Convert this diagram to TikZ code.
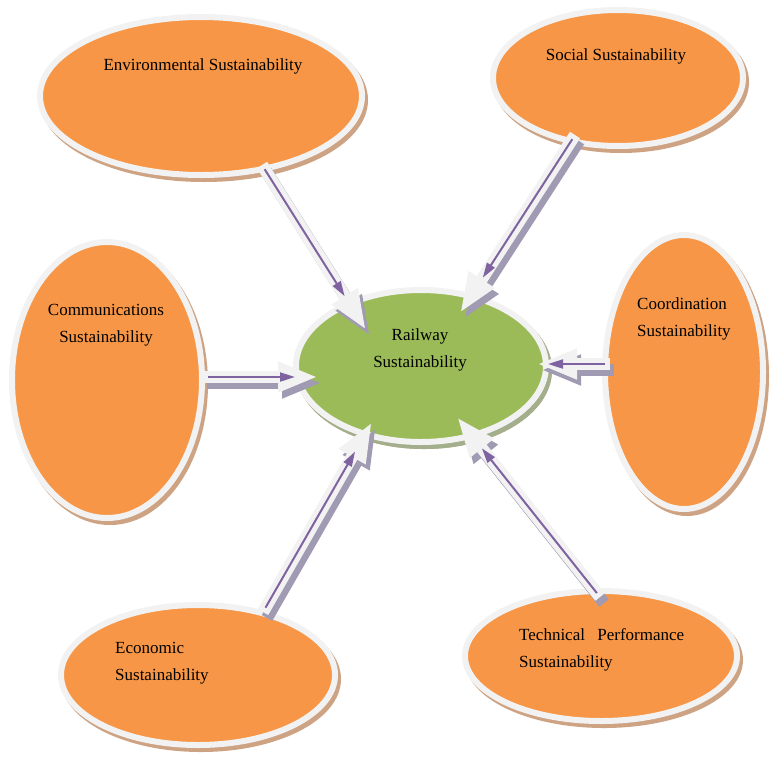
\documentclass[tikz,border=0pt]{standalone}
\usepackage{fontspec}
\setmainfont{Liberation Serif}
\usepackage{tikz}
\usetikzlibrary{shapes.geometric}
\usetikzlibrary{arrows.meta}
\usetikzlibrary{shadows}
\definecolor{bubOrange}{HTML}{F79646}
\definecolor{bubGreen}{HTML}{9BBB59}
\definecolor{bubRim}{HTML}{F2F2F2}
\definecolor{tanShade}{HTML}{CDA383}
\definecolor{greenShade}{HTML}{A3AE8C}
\definecolor{arrowShade}{HTML}{A09AB3}
\definecolor{flowPurple}{HTML}{7F63A1}
\tikzset{bubble/.style={ellipse, draw=bubRim, line width=6pt, inner sep=0pt, fill=bubOrange,
    general shadow={fill=tanShade, draw=tanShade, line width=6pt, shadow xshift=3pt, shadow yshift=-4pt}}}
\tikzset{txt/.style={inner sep=0pt, font=\fontsize{17}{27}\selectfont}}
\tikzset{block/.style={draw=bubRim, line width=12pt, -{Triangle[width=28pt,length=40pt]}}}
\tikzset{blockshade/.style={block, draw=arrowShade, transform canvas={shift={(4pt,-6pt)}}}}
\tikzset{flow/.style={draw=flowPurple, line width=2pt, -{Triangle[width=9pt,length=15pt]}, shorten <=5pt}}

\begin{document}
\begin{tikzpicture}[x=1pt, y=-1pt]
\useasboundingbox (0,0) rectangle (778,766);

% bubbles
\node[bubble, minimum width=322pt, minimum height=158pt] (env) at (201,96) {};
\node[bubble, minimum width=250pt, minimum height=136pt] (soc) at (618,78) {};
\node[bubble, minimum width=190pt, minimum height=276pt] (comm) at (107,380) {};
\node[bubble, minimum width=158pt, minimum height=274pt] (coord) at (684,372) {};
\node[bubble, minimum width=274pt, minimum height=140pt] (econ) at (198,675) {};
\node[bubble, minimum width=272pt, minimum height=130pt] (tech) at (601,656) {};
\node[bubble, fill=bubGreen, general shadow={fill=greenShade, draw=greenShade, line width=6pt, shadow xshift=3pt, shadow yshift=-4pt},
    minimum width=250pt, minimum height=152pt] (rail) at (421,366) {};

% labels
\node[txt] (envtxt) at (203,66) {Environmental Sustainability};
\node[txt] (soctxt) at (616,56) {Social Sustainability};
\node[txt, align=center] (commtxt) at (106,325.5) {Communications\\Sustainability};
\node[txt, align=left, anchor=west] (coordtxt) at (637,318.5) {Coordination\\Sustainability};
\node[txt, align=center] (railtxt) at (420,350) {Railway\\Sustainability};
\node[txt, align=left, anchor=west] (econtxt) at (115,663.5) {Economic\\Sustainability};
\node[txt, align=left, anchor=west, text width=165pt] (techtxt) at (519,649.5) {Technical\hfill Performance\\Sustainability};

% arrow ends
\coordinate (envtail) at (262,165);   \coordinate (envtip) at (366,330);
\coordinate (soctail) at (575,135);   \coordinate (soctip) at (460,313);
\coordinate (commtail) at (203,377);  \coordinate (commtip) at (318,377);
\coordinate (coordtail) at (610,364); \coordinate (coordtip) at (537,364);
\coordinate (econtail) at (263,612);  \coordinate (econtip) at (372,422);
\coordinate (techtail) at (600,597);  \coordinate (techtip) at (457,417);

% arrows
\foreach \from/\to/\cut in {env/env/40, soc/soc/42, comm/comm/23, coord/coord/11, econ/econ/34, tech/tech/40}{
    \draw[blockshade] (\from tail) -- (\to tip);
    \draw[block] (\from tail) -- (\to tip);
    \draw[flow, shorten >=\cut pt] (\from tail) -- (\to tip);
}

\end{tikzpicture}
\end{document}
